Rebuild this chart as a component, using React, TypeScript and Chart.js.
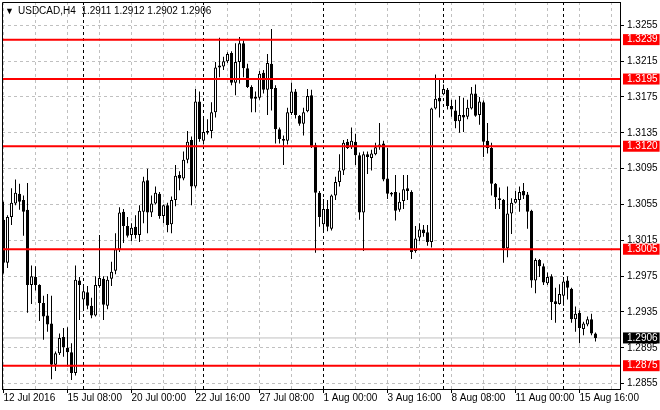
import React, { useEffect, useRef } from "react";
import { Chart, registerables } from "chart.js";

Chart.register(...registerables);

// ---- Data (USDCAD, H4) ----
const opens = [
  1.3038, 1.2990, 1.3041, 1.3056, 1.3067, 1.3060, 1.3049, 1.2965, 1.2974, 1.2965,
  1.2945, 1.2931, 1.2922, 1.2876, 1.2889, 1.2907, 1.2895, 1.2890, 1.2867, 1.2970,
  1.2949, 1.2957, 1.2942, 1.2931, 1.2964, 1.2972, 1.2942, 1.2972, 1.2981, 1.3005,
  1.3047, 1.3031, 1.3021, 1.3030, 1.3021, 1.3047, 1.3082, 1.3046, 1.3056, 1.3067,
  1.3042, 1.3054, 1.3033, 1.3060, 1.3088, 1.3084, 1.3105, 1.3127, 1.3075, 1.3170,
  1.3126, 1.3135, 1.3137, 1.3158, 1.3208, 1.3209, 1.3215, 1.3224, 1.3191, 1.3214,
  1.3235, 1.3207, 1.3186, 1.3175, 1.3174, 1.3202, 1.3183, 1.3212, 1.3185, 1.3139,
  1.3128, 1.3126, 1.3157, 1.3181, 1.3154, 1.3145, 1.3159, 1.3177, 1.3121, 1.3068,
  1.3033, 1.3050, 1.3028, 1.3065, 1.3080, 1.3093, 1.3125, 1.3119, 1.3125, 1.3110,
  1.3046, 1.3111, 1.3107, 1.3111, 1.3119, 1.3123, 1.3084, 1.3066, 1.3069, 1.3049,
  1.3059, 1.3073, 1.3069, 1.3003, 1.3018, 1.3027, 1.3024, 1.3013, 1.3162, 1.3174,
  1.3178, 1.3183, 1.3165, 1.3160, 1.3148, 1.3155, 1.3153, 1.3162, 1.3179, 1.3155,
  1.3169, 1.3126, 1.3118, 1.3078, 1.3062, 1.3060, 1.3006, 1.3045, 1.3057, 1.3060,
  1.3070, 1.3066, 1.3048, 1.2970, 1.2993, 1.2986, 1.2967, 1.2975, 1.2947, 1.2944,
  1.2953, 1.2970, 1.2961, 1.2927, 1.2934, 1.2916, 1.2921, 1.2927, 1.2911,
];
const highs = [
  1.3058, 1.3043, 1.3073, 1.3083, 1.3078, 1.3065, 1.3079, 1.2987, 1.2986, 1.2966,
  1.2953, 1.2955, 1.2953, 1.2891, 1.2911, 1.2917, 1.2918, 1.2900, 1.2987, 1.2974,
  1.2966, 1.2964, 1.2951, 1.2975, 1.3021, 1.2975, 1.2975, 1.2991, 1.3023, 1.3052,
  1.3050, 1.3041, 1.3034, 1.3043, 1.3054, 1.3086, 1.3095, 1.3065, 1.3075, 1.3069,
  1.3055, 1.3057, 1.3064, 1.3099, 1.3092, 1.3114, 1.3137, 1.3131, 1.3184, 1.3181,
  1.3153, 1.3150, 1.3169, 1.3214, 1.3241, 1.3220, 1.3225, 1.3226, 1.3235, 1.3242,
  1.3238, 1.3212, 1.3188, 1.3181, 1.3204, 1.3205, 1.3223, 1.3251, 1.3188, 1.3141,
  1.3132, 1.3163, 1.3191, 1.3184, 1.3155, 1.3163, 1.3184, 1.3183, 1.3124, 1.3070,
  1.3061, 1.3060, 1.3066, 1.3086, 1.3111, 1.3127, 1.3128, 1.3141, 1.3134, 1.3113,
  1.3114, 1.3114, 1.3116, 1.3124, 1.3146, 1.3126, 1.3118, 1.3069, 1.3088, 1.3068,
  1.3088, 1.3088, 1.3071, 1.3031, 1.3034, 1.3032, 1.3032, 1.3163, 1.3200, 1.3196,
  1.3189, 1.3185, 1.3172, 1.3172, 1.3176, 1.3174, 1.3172, 1.3186, 1.3189, 1.3175,
  1.3171, 1.3146, 1.3124, 1.3079, 1.3074, 1.3061, 1.3075, 1.3062, 1.3070, 1.3075,
  1.3079, 1.3069, 1.3049, 1.2995, 1.2994, 1.2989, 1.2979, 1.2977, 1.2962, 1.2966,
  1.2974, 1.2975, 1.2962, 1.2941, 1.2937, 1.2924, 1.2930, 1.2933, 1.2912,
];
const lows = [
  1.2978, 1.2984, 1.3032, 1.3054, 1.3049, 1.3020, 1.2934, 1.2944, 1.2959, 1.2925,
  1.2904, 1.2913, 1.2860, 1.2869, 1.2887, 1.2885, 1.2874, 1.2859, 1.2864, 1.2926,
  1.2938, 1.2938, 1.2928, 1.2930, 1.2962, 1.2926, 1.2938, 1.2964, 1.2977, 1.3002,
  1.3012, 1.3018, 1.3014, 1.3017, 1.3013, 1.3034, 1.3023, 1.3041, 1.3055, 1.3039,
  1.3034, 1.3024, 1.3023, 1.3053, 1.3071, 1.3082, 1.3101, 1.3054, 1.3073, 1.3125,
  1.3122, 1.3133, 1.3129, 1.3152, 1.3197, 1.3205, 1.3213, 1.3188, 1.3177, 1.3190,
  1.3197, 1.3185, 1.3158, 1.3158, 1.3172, 1.3179, 1.3155, 1.3160, 1.3123, 1.3123,
  1.3099, 1.3122, 1.3155, 1.3151, 1.3143, 1.3132, 1.3158, 1.3118, 1.3001, 1.3030,
  1.3024, 1.3025, 1.3026, 1.3060, 1.3075, 1.3088, 1.3117, 1.3117, 1.3099, 1.3038,
  1.3003, 1.3089, 1.3093, 1.3110, 1.3116, 1.3081, 1.3061, 1.3064, 1.3037, 1.3047,
  1.3050, 1.3060, 1.2994, 1.3001, 1.3014, 1.3019, 1.3009, 1.3007, 1.3161, 1.3152,
  1.3177, 1.3161, 1.3153, 1.3140, 1.3135, 1.3136, 1.3150, 1.3161, 1.3153, 1.3144,
  1.3108, 1.3112, 1.3065, 1.3050, 1.3050, 1.2990, 1.2996, 1.3022, 1.3056, 1.3047,
  1.3061, 1.3028, 1.2962, 1.2956, 1.2974, 1.2965, 1.2965, 1.2926, 1.2923, 1.2943,
  1.2942, 1.2949, 1.2923, 1.2913, 1.2900, 1.2909, 1.2919, 1.2909, 1.2902,
];
const closes = [
  1.2990, 1.3041, 1.3057, 1.3068, 1.3058, 1.3047, 1.2965, 1.2975, 1.2965, 1.2945,
  1.2930, 1.2921, 1.2876, 1.2889, 1.2906, 1.2896, 1.2890, 1.2867, 1.2971, 1.2965,
  1.2958, 1.2942, 1.2931, 1.2965, 1.2973, 1.2943, 1.2971, 1.2980, 1.3005, 1.3046,
  1.3031, 1.3020, 1.3029, 1.3021, 1.3048, 1.3081, 1.3046, 1.3056, 1.3068, 1.3042,
  1.3054, 1.3032, 1.3060, 1.3087, 1.3084, 1.3105, 1.3125, 1.3075, 1.3170, 1.3128,
  1.3136, 1.3137, 1.3158, 1.3208, 1.3210, 1.3215, 1.3223, 1.3191, 1.3214, 1.3235,
  1.3207, 1.3186, 1.3173, 1.3173, 1.3201, 1.3183, 1.3213, 1.3184, 1.3139, 1.3128,
  1.3126, 1.3158, 1.3181, 1.3155, 1.3145, 1.3158, 1.3176, 1.3120, 1.3068, 1.3041,
  1.3050, 1.3030, 1.3065, 1.3080, 1.3093, 1.3124, 1.3118, 1.3126, 1.3110, 1.3046,
  1.3111, 1.3108, 1.3112, 1.3119, 1.3122, 1.3083, 1.3067, 1.3068, 1.3048, 1.3058,
  1.3072, 1.3070, 1.3002, 1.3017, 1.3027, 1.3023, 1.3013, 1.3162, 1.3173, 1.3170,
  1.3184, 1.3165, 1.3161, 1.3148, 1.3155, 1.3152, 1.3163, 1.3179, 1.3154, 1.3170,
  1.3125, 1.3118, 1.3078, 1.3063, 1.3060, 1.3006, 1.3045, 1.3057, 1.3061, 1.3069,
  1.3065, 1.3047, 1.2970, 1.2993, 1.2986, 1.2968, 1.2974, 1.2946, 1.2944, 1.2955,
  1.2969, 1.2962, 1.2927, 1.2933, 1.2917, 1.2922, 1.2927, 1.2911, 1.2906,
];

// x axis (bar index) ticks
const xLabelPositions = [0, 16, 32, 48, 64, 80, 96, 112, 128, 144];
const xLabelTexts = [
  "12 Jul 2016", "15 Jul 08:00", "20 Jul 00:00", "22 Jul 16:00", "27 Jul 08:00",
  "1 Aug 00:00", "3 Aug 16:00", "8 Aug 08:00", "11 Aug 00:00", "15 Aug 16:00",
];
const xGridPositions = [0, 8, 16, 24, 32, 40, 48, 56, 64, 72, 80, 88, 96, 104, 112, 120, 128, 136, 144, 152];
const weekStarts = [20, 50, 80, 110, 140];

// y axis
const yGridTicks = [1.2855, 1.2895, 1.2935, 1.2975, 1.3015, 1.3055, 1.3095, 1.3135, 1.3175, 1.3215, 1.3255];
const levelPrices = [1.3239, 1.3195, 1.3120, 1.3005, 1.2875];
const currentPrice = 1.2906;

const symbolTitle = "USDCAD,H4";
const titleValues = ["1.2911", "1.2912", "1.2902", "1.2906"];

const X_MIN = -0.375;
const X_MAX = 154.125;
const Y_MIN = 1.2849;
const Y_MAX = 1.3281;

const FONT = "'Liberation Sans', Arial, sans-serif";
const FONT_SIZE = 10;

export default function App() {
  const ref = useRef<HTMLCanvasElement>(null);

  useEffect(() => {
    if (!ref.current) return;
    const idx = opens.map((_, i) => i);
    const bodies = idx.map((i) => ({ x: i, y: [opens[i], closes[i]] }));
    const wicks = idx.map((i) => ({ x: i, y: [lows[i], highs[i]] }));
    const bodyFill = idx.map((i) => (closes[i] >= opens[i] ? "#ffffff" : "#000000"));

    const levelSets: any[] = levelPrices.map((p) => ({
      type: "line",
      data: [
        { x: X_MIN, y: p },
        { x: X_MAX, y: p },
      ],
      borderColor: "#ff0000",
      borderWidth: 2,
      pointRadius: 0,
      fill: false,
      tension: 0,
    }));

    const xTickValues = Array.from(new Set([...xGridPositions, ...weekStarts])).sort((a, b) => a - b);
    const isYGrid = (c: any) => c && c.tick && yGridTicks.includes(c.tick.value);
    const isXLabel = (c: any) => c && c.tick && xLabelPositions.includes(c.tick.value);
    const isWeek = (c: any) => c && c.tick && weekStarts.includes(c.tick.value);

    const framePlugin = {
      id: "frame",
      afterDatasetsDraw(chart: any) {
        const { ctx, chartArea } = chart;
        ctx.save();
        ctx.strokeStyle = "#000";
        ctx.lineWidth = 1;
        ctx.beginPath();
        ctx.moveTo(chartArea.left + 0.5, chartArea.bottom);
        ctx.lineTo(chartArea.left + 0.5, chartArea.top + 0.5);
        ctx.lineTo(chartArea.right, chartArea.top + 0.5);
        ctx.stroke();
        ctx.restore();
      },
    };

    const chart = new Chart(ref.current, {
      type: "bar",
      data: {
        datasets: [
          ...levelSets,
          {
            type: "bar",
            data: bodies,
            backgroundColor: bodyFill,
            borderColor: "#000000",
            borderWidth: 1,
            borderSkipped: false,
            inflateAmount: 0,
            grouped: false,
            barPercentage: 1,
            categoryPercentage: 1,
            maxBarThickness: 3,
            minBarLength: 1,
          },
          {
            type: "bar",
            data: wicks,
            backgroundColor: "#000000",
            borderWidth: 0,
            inflateAmount: 0,
            grouped: false,
            barPercentage: 1,
            categoryPercentage: 1,
            maxBarThickness: 1,
          },
          {
            type: "line",
            data: [
              { x: X_MIN, y: currentPrice },
              { x: X_MAX, y: currentPrice },
            ],
            borderColor: "#c0c0c0",
            borderWidth: 1,
            pointRadius: 0,
            fill: false,
          },
        ] as any,
      },
      options: {
        animation: false,
        responsive: false,
        devicePixelRatio: 1,
        events: [],
        layout: { padding: { left: 2, top: 2, right: 0, bottom: 0 }, autoPadding: false } as any,
        plugins: {
          legend: { display: false },
          tooltip: { enabled: false },
          title: { display: false },
        },
        scales: {
          x: {
            type: "linear",
            position: "bottom",
            min: X_MIN,
            max: X_MAX,
            offset: false,
            afterBuildTicks: (s: any) => {
              s.ticks = xTickValues.map((v) => ({ value: v }));
            },
            afterFit: (s: any) => {
              s.height = 21;
              s.paddingLeft = 0;
              s.paddingRight = 0;
            },
            ticks: {
              autoSkip: false,
              maxRotation: 0,
              minRotation: 0,
              align: "start",
              padding: 0,
              color: "#000",
              font: { family: FONT, size: FONT_SIZE, lineHeight: 1 },
              callback: (v: any) => {
                const k = xLabelPositions.indexOf(Number(v));
                return k >= 0 ? xLabelTexts[k] : "";
              },
            },
            grid: {
              offset: false,
              color: (c: any) => (isWeek(c) ? "#000000" : "#c0c0c0"),
              tickColor: (c: any) => (isXLabel(c) ? "#000000" : "rgba(0,0,0,0)"),
              tickLength: 4,
              lineWidth: 1,
            },
            border: { display: true, color: "#000", width: 1, dash: [3, 3] },
          } as any,
          y: {
            type: "linear",
            position: "right",
            min: Y_MIN,
            max: Y_MAX,
            afterBuildTicks: (s: any) => {
              s.ticks = [
                ...yGridTicks.map((v) => ({ value: v })),
                ...levelPrices.map((v) => ({ value: v })),
                { value: currentPrice },
              ];
            },
            afterFit: (s: any) => {
              s.width = 40;
              s.paddingTop = 0;
              s.paddingBottom = 0;
            },
            ticks: {
              autoSkip: false,
              padding: 3,
              font: { family: FONT, size: FONT_SIZE, lineHeight: 0.9 },
              color: (c: any) => (isYGrid(c) ? "#000000" : "#ffffff"),
              callback: (v: any) => Number(v).toFixed(4),
              showLabelBackdrop: (c: any) => !isYGrid(c),
              backdropColor: (c: any) => (c && c.tick && c.tick.value === currentPrice ? "#000000" : "#ff0000"),
              backdropPadding: { left: 4, right: 2, top: 1, bottom: 1 },
            },
            grid: {
              color: (c: any) => (isYGrid(c) ? "#c0c0c0" : "rgba(0,0,0,0)"),
              tickColor: (c: any) => (isYGrid(c) ? "#000000" : "rgba(0,0,0,0)"),
              tickLength: 4,
              lineWidth: 1,
            },
            border: { display: true, color: "#000", width: 1, dash: [3, 3] },
          } as any,
        },
      },
      plugins: [framePlugin],
    } as any);

    return () => chart.destroy();
  }, []);

  return (
    <div style={{ position: "absolute", left: 0, top: 0, width: 660, height: 410, background: "#ffffff" }}>
      <canvas ref={ref} width={660} height={410} style={{ display: "block" }} />
      <div
        style={{
          position: "absolute",
          left: 5,
          top: 5,
          fontFamily: FONT,
          fontSize: FONT_SIZE,
          lineHeight: "12px",
          color: "#000",
          whiteSpace: "pre",
          pointerEvents: "none",
        }}
      >
        <span style={{ fontSize: 9, display: "inline-block", width: 13 }}>▼</span>
        <span>{symbolTitle + "  " + titleValues.join(" ")}</span>
      </div>
    </div>
  );
}
